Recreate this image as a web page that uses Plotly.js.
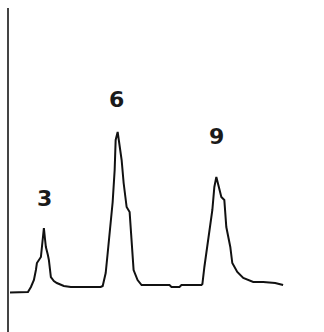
<!DOCTYPE html>
<html>
<head>
<meta charset="utf-8">
<script src="https://cdn.plot.ly/plotly-3.0.1.min.js"></script>
<style>html,body{margin:0;padding:0;background:#fff;}#chart{width:324px;height:332px;}</style>
</head>
<body>
<div id="chart"></div>
<script>
// Signal trace: position (x) and intensity (y, above baseline)
var xPos = [9,27,30,33,35,36,40,41,43,44,45,47,48,50,53,56,63,70,100,
            102,105,107,110,112,114,115,117,118,119,121,123,126,129,131,133,137,141,169,171,179,181,201,
            202,204,206,209,212,214,216,218,221,224,226,230,232,237,243,253,263,275,283];
var intensity = [0.5,1,6,13,23,30,36,48,65,55,46,38,33,16,12,10,7,6,6,
            7,20,40,70,91,123,153,161,153,145,133,110,86,81,46,23,13,8,8,6,6,8,8,
            9,26,40,63,83,106,116,108,96,93,66,46,30,21,15,11,11,10,8];
// Peak labels
var peakLabels = ['3','6','9'];
var labelX = [44,116,216];
var labelY = [95,194,157];

var annotations = peakLabels.map(function(t,i){
  return {x: labelX[i], y: labelY[i], xref:'x', yref:'y', text:'<b>'+t+'</b>', showarrow:false,
          xanchor:'center', yanchor:'middle',
          font:{family:'DejaVu Sans, Verdana, sans-serif', size:22, color:'#1a1a1a'}};
});

Plotly.newPlot('chart', [{
  x: xPos, y: intensity, type:'scatter', mode:'lines',
  line:{color:'#111', width:2}, hoverinfo:'skip'
}], {
  width:324, height:332,
  margin:{l:9, r:0, t:8, b:0, pad:0},
  paper_bgcolor:'#fff', plot_bgcolor:'#fff',
  showlegend:false,
  xaxis:{range:[8,324], showgrid:false, zeroline:false, showticklabels:false, ticks:'', showline:false},
  yaxis:{range:[-39,285], showgrid:false, zeroline:false, showticklabels:false, ticks:'',
         showline:true, linecolor:'#444', linewidth:2},
  annotations: annotations
}, {staticPlot:true, displayModeBar:false});
</script>
</body>
</html>
